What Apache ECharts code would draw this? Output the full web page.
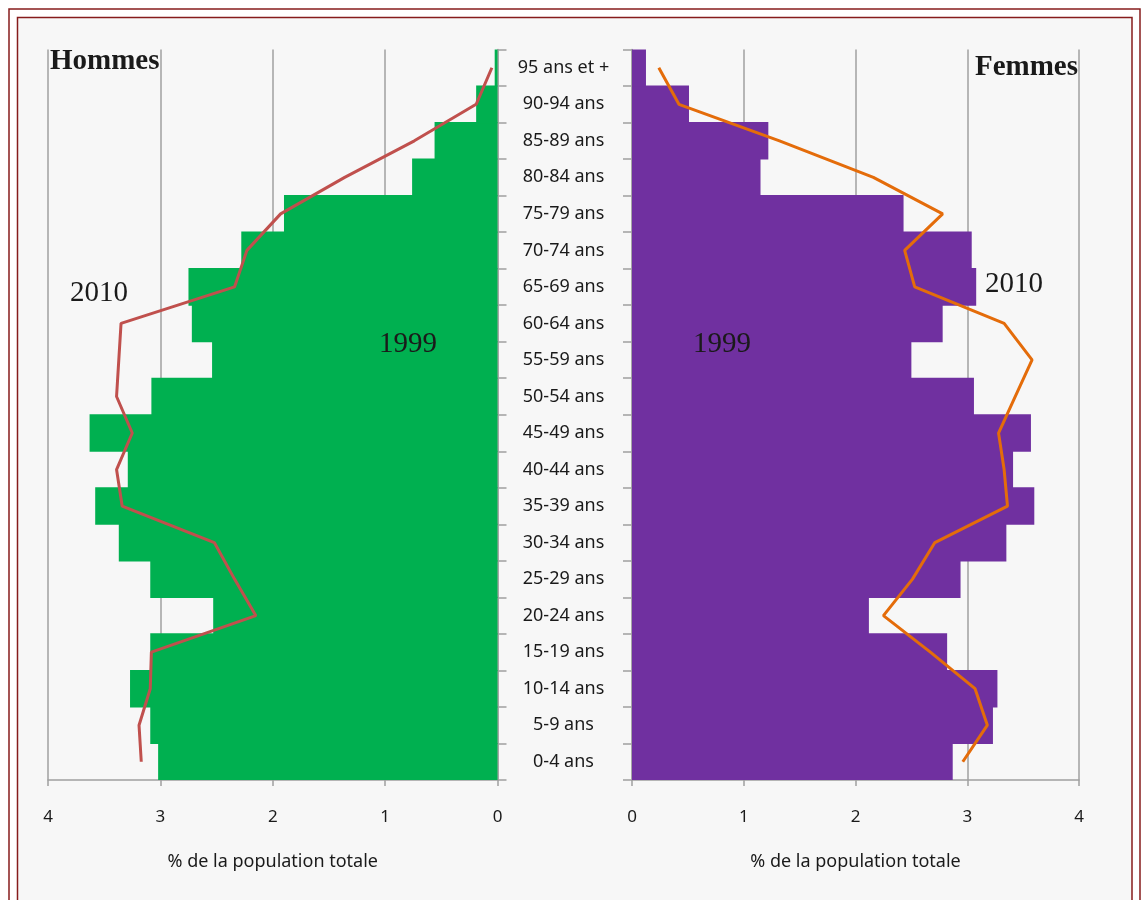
<!DOCTYPE html>
<html>
<head>
<meta charset="utf-8">
<title>Pyramide des âges 1999 / 2010</title>
<script src="https://cdn.jsdelivr.net/npm/echarts@6/dist/echarts.min.js"></script>
<style>
  html, body { margin: 0; padding: 0; background: #ffffff; }
  #chart { width: 1144px; height: 900px; }
</style>
</head>
<body>
<div id="chart"></div>
<script>
// Age groups, from youngest (bottom) to oldest (top)
const categories = [
  '0-4 ans', '5-9 ans', '10-14 ans', '15-19 ans', '20-24 ans',
  '25-29 ans', '30-34 ans', '35-39 ans', '40-44 ans', '45-49 ans',
  '50-54 ans', '55-59 ans', '60-64 ans', '65-69 ans', '70-74 ans',
  '75-79 ans', '80-84 ans', '85-89 ans', '90-94 ans', '95 ans et +'
];

// % of total population, men
const hommes1999 = [3.02, 3.09, 3.27, 3.09, 2.53, 3.09, 3.37, 3.58, 3.29, 3.63,
                    3.08, 2.54, 2.72, 2.75, 2.28, 1.90, 0.76, 0.56, 0.19, 0.025];
const hommes2010 = [3.17, 3.19, 3.09, 3.08, 2.15, 2.34, 2.52, 3.34, 3.39, 3.25,
                    3.39, 3.37, 3.35, 2.34, 2.23, 1.93, 1.36, 0.74, 0.19, 0.05];

// % of total population, women
const femmes1999 = [2.87, 3.23, 3.27, 2.82, 2.12, 2.94, 3.35, 3.60, 3.41, 3.57,
                    3.06, 2.50, 2.78, 3.08, 3.04, 2.43, 1.15, 1.22, 0.51, 0.125];
const femmes2010 = [2.96, 3.18, 3.07, 2.67, 2.25, 2.51, 2.71, 3.36, 3.33, 3.28,
                    3.43, 3.58, 3.33, 2.53, 2.44, 2.78, 2.16, 1.32, 0.42, 0.24];

const axisName = '% de la population totale';

const sans = '"Noto Sans", "Open Sans", sans-serif';
const serif = '"Liberation Serif", "DejaVu Serif", serif';
const gridGray = '#a0a0a0';
const textDark = '#1a1a1a';
const frameRed = '#861c1c';

function valueAxis(gridIndex, inverse) {
  return {
    type: 'value',
    gridIndex: gridIndex,
    inverse: inverse,
    min: 0,
    max: 4,
    interval: 1,
    name: axisName,
    nameLocation: 'middle',
    nameGap: 73,
    nameTextStyle: { fontFamily: sans, fontSize: 18, color: textDark },
    axisLine: { show: true, lineStyle: { color: gridGray, width: 1.5 } },
    axisTick: { show: true, length: 6, lineStyle: { color: gridGray, width: 1.5 } },
    axisLabel: { margin: 29, fontFamily: sans, fontSize: 17, color: textDark },
    splitLine: { show: true, lineStyle: { color: gridGray, width: 1.5 } }
  };
}

function categoryAxis(gridIndex, position, showLabels) {
  return {
    type: 'category',
    gridIndex: gridIndex,
    position: position,
    data: categories,
    boundaryGap: true,
    axisLine: { show: true, onZero: false, lineStyle: { color: gridGray, width: 1.5 } },
    axisTick: { show: true, length: 9, lineStyle: { color: gridGray, width: 1.5 } },
    axisLabel: {
      show: showLabels,
      interval: 0,
      align: 'center',
      margin: 66,
      fontFamily: sans,
      fontSize: 18,
      color: textDark
    },
    splitLine: { show: false }
  };
}

// Bars of a panel touch each other; a slight overlap hides anti-aliasing seams
function barSeries(name, axisIndex, data, color) {
  return {
    name: name, type: 'bar', xAxisIndex: axisIndex, yAxisIndex: axisIndex,
    data: data, barWidth: '103%', barGap: '-100%',
    itemStyle: { color: color }
  };
}

function lineSeries(name, axisIndex, data, color) {
  return {
    name: name, type: 'line', xAxisIndex: axisIndex, yAxisIndex: axisIndex,
    data: data, symbol: 'none', smooth: false, z: 3,
    lineStyle: { color: color, width: 3 }
  };
}

const chart = echarts.init(document.getElementById('chart'), null, { renderer: 'canvas' });

chart.setOption({
  backgroundColor: '#ffffff',
  animation: false,
  grid: [
    { left: 48, right: 646.5, top: 49.5, bottom: 120 },
    { left: 632, right: 65, top: 49.5, bottom: 120 }
  ],
  xAxis: [valueAxis(0, true), valueAxis(1, false)],
  yAxis: [categoryAxis(0, 'right', true), categoryAxis(1, 'left', false)],
  series: [
    barSeries('Hommes 1999', 0, hommes1999, '#00b050'),
    lineSeries('Hommes 2010', 0, hommes2010, '#c0504d'),
    barSeries('Femmes 1999', 1, femmes1999, '#7030a0'),
    lineSeries('Femmes 2010', 1, femmes2010, '#e46c0a')
  ],
  graphic: [
    // double frame around the chart area
    {
      type: 'rect', z: -20, silent: true,
      shape: { x: 9, y: 9, width: 1131, height: 1000 },
      style: { fill: '#ffffff', stroke: frameRed, lineWidth: 1.5 }
    },
    {
      type: 'rect', z: -19, silent: true,
      shape: { x: 17.5, y: 17.5, width: 1114.5, height: 1000 },
      style: { fill: '#f7f7f7', stroke: frameRed, lineWidth: 1.5 }
    },
    // panel titles
    {
      type: 'text', z: 10, left: 50, top: 47,
      style: { text: 'Hommes', font: 'bold 29px ' + serif, fill: textDark }
    },
    {
      type: 'text', z: 10, right: 1144 - 1078, top: 53,
      style: { text: 'Femmes', font: 'bold 29px ' + serif, fill: textDark }
    },
    // year annotations
    {
      type: 'text', z: 10, left: 70, top: 279,
      style: { text: '2010', font: '29px ' + serif, fill: textDark }
    },
    {
      type: 'text', z: 10, left: 379, top: 330,
      style: { text: '1999', font: '29px ' + serif, fill: textDark }
    },
    {
      type: 'text', z: 10, left: 693, top: 330,
      style: { text: '1999', font: '29px ' + serif, fill: textDark }
    },
    {
      type: 'text', z: 10, left: 985, top: 270,
      style: { text: '2010', font: '29px ' + serif, fill: textDark }
    }
  ]
});
</script>
</body>
</html>
